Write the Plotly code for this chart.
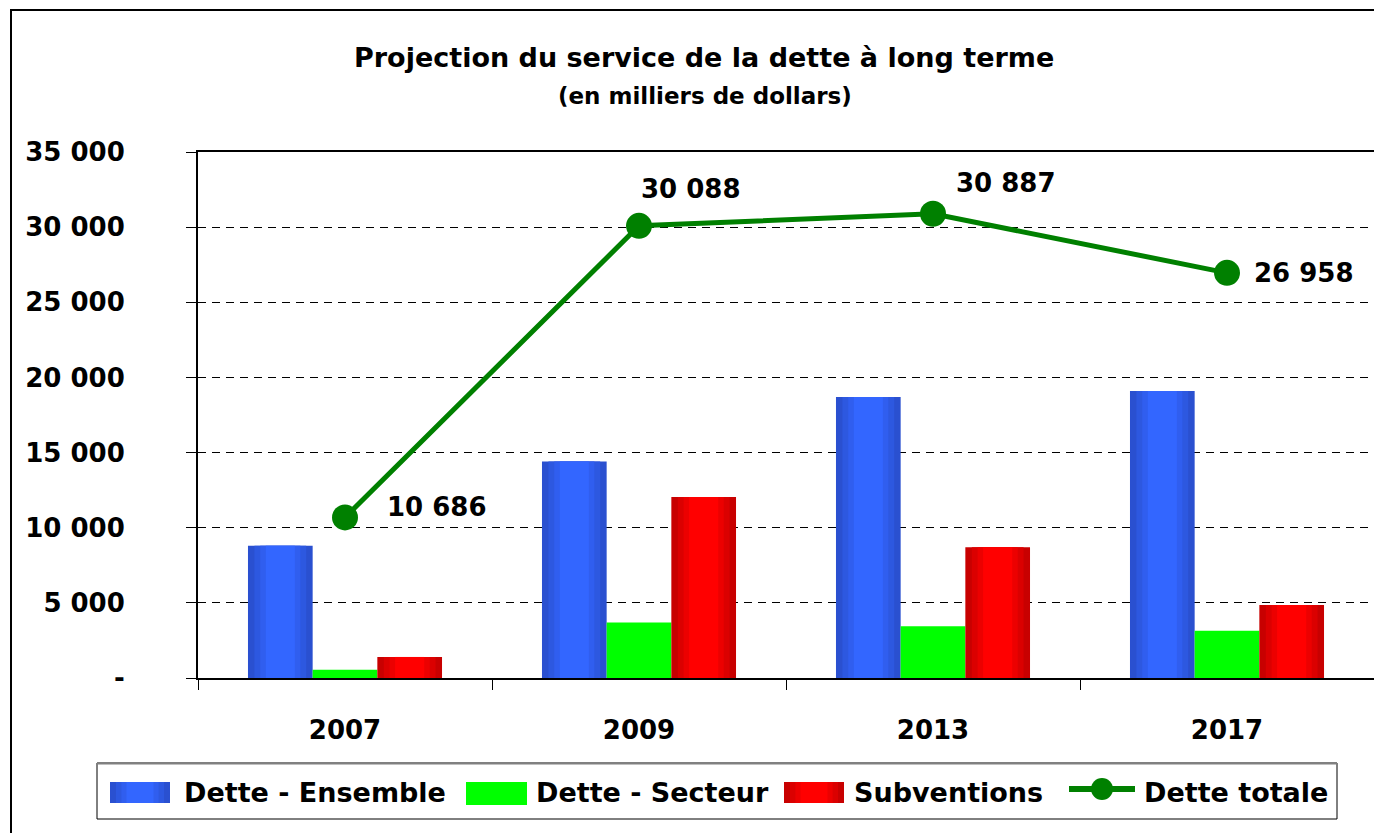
import plotly.graph_objects as go

years = ["2007", "2009", "2013", "2017"]
dette_ensemble = [8800, 14400, 18700, 19100]
dette_secteur = [550, 3700, 3450, 3150]
subventions = [1400, 12050, 8700, 4850]
dette_totale = [10686, 30088, 30887, 26958]
series_names = ["Dette - Ensemble", "Dette - Secteur", "Subventions", "Dette totale"]

y_tickvals = [0, 5000, 10000, 15000, 20000, 25000, 30000, 35000]
y_ticktext = ["-", "5 000", "10 000", "15 000", "20 000", "25 000", "30 000", "35 000"]

FONT = "DejaVu Sans, Liberation Sans, Arial, sans-serif"

W, H = 1374, 833
L, R, T, B = 198, 0, 152, 155
pw = W - L - R
ph = H - T - B

BAR_W = 0.22
BLUE_EDGE, BLUE_MID = (0x2A, 0x50, 0xD0), (0x33, 0x66, 0xFF)
RED_EDGE, RED_MID = (0xC8, 0x00, 0x00), (0xFF, 0x00, 0x00)
GREEN = "#00FF00"
LINE_GREEN = "#008000"


def py(pix):
    return (T + ph - pix) / ph


def px(pix):
    return (pix - L) / pw


def mix(a, b, t):
    return "rgb(%d,%d,%d)" % tuple(round(a[k] + (b[k] - a[k]) * t) for k in range(3))


# fraction of bar width for each shading layer, and blend toward the mid colour
LAYERS = [(1.0, 0.0), (0.80, 0.35), (0.62, 0.65), (0.45, 1.0)]

fig = go.Figure()


def add_shaded_bars(values, name, center, edge, mid):
    for frac, t in LAYERS:
        w = BAR_W * frac
        fig.add_trace(go.Bar(x=years, y=values, name=name, showlegend=False,
                             width=w, offset=center - w / 2,
                             marker=dict(color=mix(edge, mid, t), line=dict(width=0)),
                             hoverinfo="x+y+name"))


add_shaded_bars(dette_ensemble, series_names[0], -BAR_W, BLUE_EDGE, BLUE_MID)
fig.add_trace(go.Bar(x=years, y=dette_secteur, name=series_names[1], showlegend=False,
                     width=BAR_W, offset=-BAR_W / 2,
                     marker=dict(color=GREEN, line=dict(width=0))))
add_shaded_bars(subventions, series_names[2], BAR_W, RED_EDGE, RED_MID)

fig.add_trace(go.Scatter(x=years, y=dette_totale, name=series_names[3],
                         mode="lines+markers", showlegend=False,
                         line=dict(color=LINE_GREEN, width=5),
                         marker=dict(color=LINE_GREEN, size=26)))

shifts = [(40, 10), (0, 37), (21, 31), (25, 0)]
for i, (v, (dx, dy)) in enumerate(zip(dette_totale, shifts)):
    fig.add_annotation(x=i, y=v, xref="x", yref="y",
                       text=f"{v:,}".replace(",", " "),
                       showarrow=False, xanchor="left", yanchor="middle",
                       xshift=dx, yshift=dy,
                       font=dict(family=FONT, size=26, color="black", weight="bold"))

# titles
fig.add_annotation(xref="paper", yref="paper", x=px(703.5), y=py(58),
                   xanchor="center", yanchor="middle", showarrow=False,
                   text="Projection du service de la dette à long terme",
                   font=dict(family=FONT, size=27, color="black", weight="bold"))
fig.add_annotation(xref="paper", yref="paper", x=px(704.5), y=py(96),
                   xanchor="center", yanchor="middle", showarrow=False,
                   text="(en milliers de dollars)",
                   font=dict(family=FONT, size=23, color="black", weight="bold"))

# outer border
fig.add_shape(type="rect", xref="paper", yref="paper",
              x0=px(11), x1=px(W + 20), y0=py(H + 20), y1=py(10),
              line=dict(color="black", width=2), fillcolor="rgba(0,0,0,0)",
              layer="below")

# ---- legend box (drawn) ----
fig.add_shape(type="rect", xref="paper", yref="paper",
              x0=px(97), x1=px(1337), y0=py(819), y1=py(763),
              line=dict(color="black", width=1), fillcolor="white")
fig.add_shape(type="line", xref="paper", yref="paper",
              x0=px(97), x1=px(1337), y0=py(763.5), y1=py(763.5),
              line=dict(color="#808080", width=2))


def swatch(x0, x1, y0, y1, edge, mid):
    if mid is None:
        fig.add_shape(type="rect", xref="paper", yref="paper",
                      x0=px(x0), x1=px(x1), y0=py(y1), y1=py(y0),
                      line=dict(width=0), fillcolor=edge)
        return
    c = (x0 + x1) / 2
    for frac, t in LAYERS:
        hw = (x1 - x0) * frac / 2
        fig.add_shape(type="rect", xref="paper", yref="paper",
                      x0=px(c - hw), x1=px(c + hw), y0=py(y1), y1=py(y0),
                      line=dict(width=0), fillcolor=mix(edge, mid, t))


swatch(110, 170, 782, 803, BLUE_EDGE, BLUE_MID)
swatch(466, 527, 782, 805, GREEN, None)
swatch(784, 844, 782, 803, RED_EDGE, RED_MID)
fig.add_shape(type="line", xref="paper", yref="paper",
              x0=px(1069), x1=px(1135), y0=py(789), y1=py(789),
              line=dict(color=LINE_GREEN, width=6))
fig.add_shape(type="circle", xref="paper", yref="paper",
              x0=px(1091), x1=px(1113), y0=py(800), y1=py(778),
              line=dict(width=0), fillcolor=LINE_GREEN)

legend_text_x = [182, 534, 852, 1142]
for name, tx in zip(series_names, legend_text_x):
    fig.add_annotation(xref="paper", yref="paper", x=px(tx), y=py(792),
                       xanchor="left", yanchor="middle", showarrow=False,
                       text=name,
                       font=dict(family=FONT, size=27, color="black", weight="bold"))

fig.update_layout(
    width=W, height=H,
    margin=dict(l=L, r=R, t=T, b=B),
    paper_bgcolor="white", plot_bgcolor="white",
    barmode="overlay",
    font=dict(family=FONT, color="black"),
    showlegend=False,
    xaxis=dict(type="category", range=[-0.5, 3.5], autorange=False,
               showline=True, linecolor="black", linewidth=2,
               mirror=True, ticks="outside", ticklen=10, tickcolor="black",
               tickwidth=1, tickson="boundaries", showgrid=False,
               ticklabelstandoff=28, tickangle=0,
               tickfont=dict(family=FONT, size=26, color="black", weight="bold")),
    yaxis=dict(range=[0, 35000], autorange=False,
               tickvals=y_tickvals, ticktext=y_ticktext,
               showline=True, linecolor="black", linewidth=2,
               ticks="outside", ticklen=10, tickcolor="black", tickwidth=1,
               showgrid=True, gridcolor="black", gridwidth=1, griddash="8px,6px",
               zeroline=False, ticklabelstandoff=56,
               tickfont=dict(family=FONT, size=26, color="black", weight="bold")),
)

fig.write_html("out.html", config={"displayModeBar": False},
               post_script="document.body.style.margin='0';document.body.style.overflow='hidden';")
